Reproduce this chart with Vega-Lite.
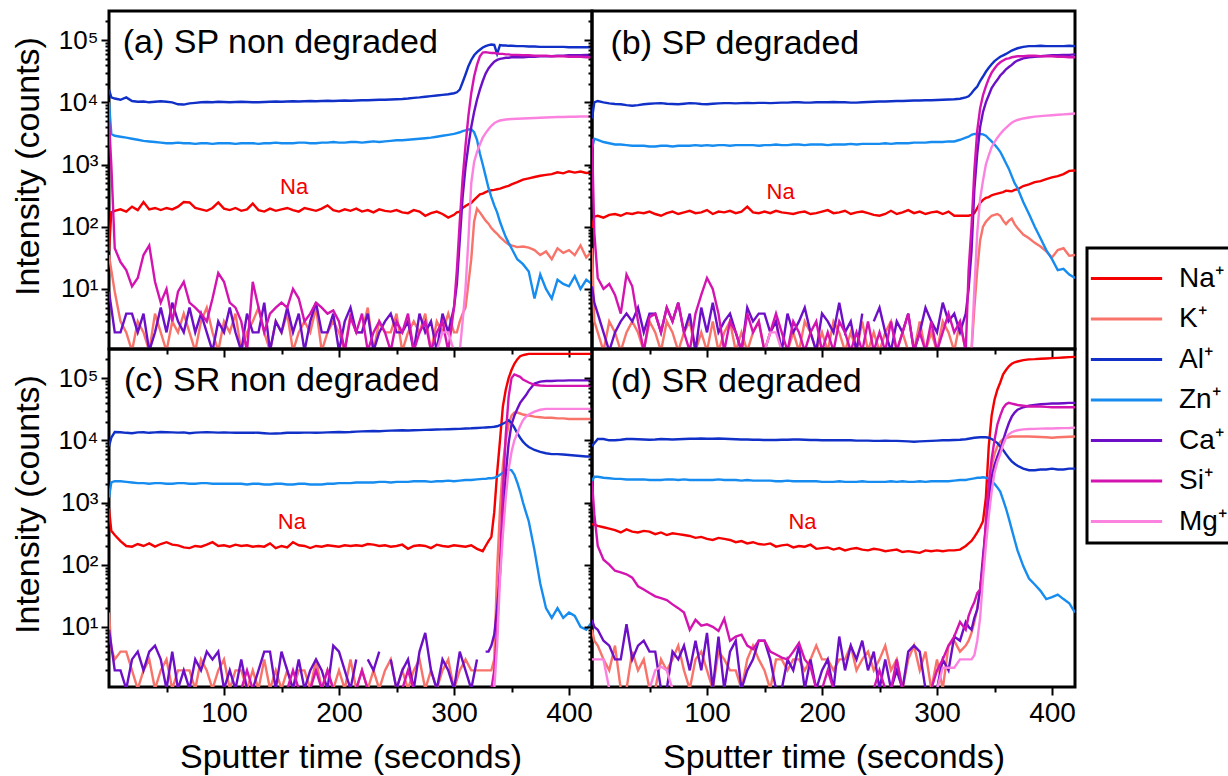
{
"$schema": "https://vega.github.io/schema/vega-lite/v6.json",
"background": "white",
"padding": {"left": 10, "top": 6, "right": 0, "bottom": 0},
"config": {
  "font": "Liberation Sans",
  "view": {"stroke": "black", "strokeWidth": 3},
  "axis": {"grid": false, "domain": false, "tickColor": "black", "tickWidth": 2, "labelColor": "black", "titleColor": "black", "labelFont": "Liberation Sans", "titleFont": "Liberation Sans", "titleFontWeight": "normal", "titleFontSize": 34, "labelOverlap": false, "labelFlush": false},
  "axisX": {"labelFontSize": 28, "labelPadding": 4, "titlePadding": 13},
  "axisY": {"labelFontSize": 26, "labelPadding": 3, "titlePadding": 12},
  "legend": {"strokeWidth": 3}
},
"datasets": {
"lab": [
{"p":"a","k":"h","t":12,"v":62000,"text":"(a) SP non degraded"},
{"p":"b","k":"h","t":16,"v":60000,"text":"(b) SP degraded"},
{"p":"c","k":"h","t":13,"v":62000,"text":"(c) SR non degraded"},
{"p":"d","k":"h","t":16,"v":60000,"text":"(d) SR degraded"},
{"p":"a","k":"n","t":161,"v":341,"text":"Na"},
{"p":"b","k":"n","t":164,"v":283,"text":"Na"},
{"p":"c","k":"n","t":159,"v":381,"text":"Na"},
{"p":"d","k":"n","t":183,"v":372,"text":"Na"}
],
"ts": [
{"p":"a","t":0,"Na":40,"K":35,"Al":16000,"Zn":10000,"Ca":9,"Si":5000,"Mg":1},
{"p":"a","t":2,"Na":170,"K":20,"Al":12000,"Zn":3100,"Ca":5,"Si":1000,"Mg":1},
{"p":"a","t":5,"Na":180,"K":9,"Al":11500,"Zn":2900,"Ca":2,"Si":45,"Mg":1},
{"p":"a","t":10,"Na":190,"K":3,"Al":11000,"Zn":2800,"Ca":2,"Si":27,"Mg":1},
{"p":"a","t":15,"Na":175,"K":2,"Al":12000,"Zn":2700,"Ca":4,"Si":20,"Mg":1},
{"p":"a","t":20,"Na":210,"K":1,"Al":10500,"Zn":2600,"Ca":4,"Si":11,"Mg":1},
{"p":"a","t":25,"Na":185,"K":3,"Al":10200,"Zn":2500,"Ca":2,"Si":15,"Mg":1},
{"p":"a","t":30,"Na":250,"K":2,"Al":10300,"Zn":2400,"Ca":4,"Si":35,"Mg":1},
{"p":"a","t":35,"Na":190,"K":1,"Al":10000,"Zn":2350,"Ca":1,"Si":50,"Mg":1},
{"p":"a","t":40,"Na":200,"K":4,"Al":10200,"Zn":2300,"Ca":2,"Si":13,"Mg":1},
{"p":"a","t":45,"Na":185,"K":2,"Al":10400,"Zn":2250,"Ca":5,"Si":6,"Mg":1},
{"p":"a","t":50,"Na":200,"K":1,"Al":10200,"Zn":2200,"Ca":2,"Si":10,"Mg":1},
{"p":"a","t":55,"Na":190,"K":3,"Al":10000,"Zn":2200,"Ca":6,"Si":3,"Mg":1},
{"p":"a","t":60,"Na":210,"K":2,"Al":9300,"Zn":2250,"Ca":3,"Si":9,"Mg":1},
{"p":"a","t":65,"Na":250,"K":4,"Al":9200,"Zn":2200,"Ca":2,"Si":13,"Mg":1},
{"p":"a","t":70,"Na":245,"K":2,"Al":9600,"Zn":2200,"Ca":5,"Si":6,"Mg":1},
{"p":"a","t":75,"Na":200,"K":1,"Al":9800,"Zn":2150,"Ca":2,"Si":5,"Mg":1},
{"p":"a","t":80,"Na":190,"K":3,"Al":10000,"Zn":2200,"Ca":4,"Si":4,"Mg":1},
{"p":"a","t":85,"Na":180,"K":5,"Al":10100,"Zn":2200,"Ca":2,"Si":3,"Mg":1},
{"p":"a","t":90,"Na":200,"K":2,"Al":10000,"Zn":2150,"Ca":1,"Si":7,"Mg":1},
{"p":"a","t":95,"Na":245,"K":1,"Al":10200,"Zn":2200,"Ca":3,"Si":18,"Mg":1},
{"p":"a","t":100,"Na":195,"K":3,"Al":10100,"Zn":2200,"Ca":2,"Si":13,"Mg":1},
{"p":"a","t":105,"Na":185,"K":2,"Al":10000,"Zn":2200,"Ca":5,"Si":6,"Mg":1},
{"p":"a","t":110,"Na":200,"K":4,"Al":10100,"Zn":2150,"Ca":2,"Si":5,"Mg":1},
{"p":"a","t":115,"Na":180,"K":1,"Al":10200,"Zn":2200,"Ca":1,"Si":3,"Mg":1},
{"p":"a","t":120,"Na":190,"K":2,"Al":10100,"Zn":2200,"Ca":4,"Si":1,"Mg":1},
{"p":"a","t":125,"Na":235,"K":3,"Al":10000,"Zn":2200,"Ca":2,"Si":13,"Mg":1},
{"p":"a","t":130,"Na":185,"K":5,"Al":10000,"Zn":2150,"Ca":2,"Si":5,"Mg":1},
{"p":"a","t":135,"Na":175,"K":2,"Al":10100,"Zn":2200,"Ca":6,"Si":2,"Mg":1},
{"p":"a","t":140,"Na":195,"K":1,"Al":10200,"Zn":2200,"Ca":1,"Si":4,"Mg":1},
{"p":"a","t":145,"Na":180,"K":3,"Al":10300,"Zn":2250,"Ca":3,"Si":5,"Mg":1},
{"p":"a","t":150,"Na":190,"K":2,"Al":10200,"Zn":2200,"Ca":2,"Si":6,"Mg":1},
{"p":"a","t":155,"Na":200,"K":4,"Al":10300,"Zn":2200,"Ca":5,"Si":5,"Mg":1},
{"p":"a","t":160,"Na":185,"K":1,"Al":10400,"Zn":2200,"Ca":2,"Si":10,"Mg":1},
{"p":"a","t":165,"Na":175,"K":2,"Al":10300,"Zn":2250,"Ca":4,"Si":7,"Mg":1},
{"p":"a","t":170,"Na":200,"K":3,"Al":10400,"Zn":2250,"Ca":1,"Si":3,"Mg":1},
{"p":"a","t":175,"Na":190,"K":2,"Al":10500,"Zn":2200,"Ca":3,"Si":4,"Mg":1},
{"p":"a","t":180,"Na":180,"K":5,"Al":10400,"Zn":2200,"Ca":6,"Si":6,"Mg":1},
{"p":"a","t":185,"Na":195,"K":1,"Al":10500,"Zn":2250,"Ca":2,"Si":5,"Mg":1},
{"p":"a","t":190,"Na":220,"K":2,"Al":10600,"Zn":2250,"Ca":2,"Si":4,"Mg":1},
{"p":"a","t":195,"Na":185,"K":3,"Al":10500,"Zn":2300,"Ca":4,"Si":4.5,"Mg":1},
{"p":"a","t":200,"Na":175,"K":2,"Al":10600,"Zn":2250,"Ca":1,"Si":3,"Mg":1},
{"p":"a","t":205,"Na":190,"K":1,"Al":10700,"Zn":2250,"Ca":3,"Si":1,"Mg":1},
{"p":"a","t":210,"Na":180,"K":4,"Al":10600,"Zn":2300,"Ca":5,"Si":3.5,"Mg":1},
{"p":"a","t":215,"Na":195,"K":2,"Al":10700,"Zn":2300,"Ca":2,"Si":2,"Mg":1},
{"p":"a","t":220,"Na":175,"K":2,"Al":10800,"Zn":2250,"Ca":2,"Si":4,"Mg":1},
{"p":"a","t":225,"Na":185,"K":5,"Al":10800,"Zn":2300,"Ca":4,"Si":1,"Mg":1},
{"p":"a","t":230,"Na":170,"K":1,"Al":10900,"Zn":2350,"Ca":1,"Si":2,"Mg":1},
{"p":"a","t":235,"Na":190,"K":3,"Al":11000,"Zn":2300,"Ca":2,"Si":3,"Mg":1},
{"p":"a","t":240,"Na":180,"K":2,"Al":11000,"Zn":2350,"Ca":3,"Si":2,"Mg":1},
{"p":"a","t":245,"Na":175,"K":2,"Al":11100,"Zn":2400,"Ca":4,"Si":1,"Mg":1},
{"p":"a","t":250,"Na":185,"K":4,"Al":11200,"Zn":2450,"Ca":2,"Si":3,"Mg":1},
{"p":"a","t":255,"Na":170,"K":1,"Al":11300,"Zn":2450,"Ca":2,"Si":2,"Mg":1},
{"p":"a","t":260,"Na":165,"K":2,"Al":11500,"Zn":2500,"Ca":3,"Si":4,"Mg":1},
{"p":"a","t":265,"Na":185,"K":3,"Al":11800,"Zn":2550,"Ca":1,"Si":1,"Mg":1},
{"p":"a","t":270,"Na":175,"K":2,"Al":12000,"Zn":2600,"Ca":4,"Si":2,"Mg":1},
{"p":"a","t":275,"Na":150,"K":4,"Al":12300,"Zn":2650,"Ca":2,"Si":3,"Mg":1},
{"p":"a","t":280,"Na":165,"K":1,"Al":12600,"Zn":2700,"Ca":3,"Si":1,"Mg":1},
{"p":"a","t":285,"Na":175,"K":3,"Al":12900,"Zn":2800,"Ca":1,"Si":2,"Mg":1},
{"p":"a","t":290,"Na":160,"K":2,"Al":13200,"Zn":2900,"Ca":4,"Si":3,"Mg":2},
{"p":"a","t":295,"Na":140,"K":4,"Al":13500,"Zn":3000,"Ca":2,"Si":1,"Mg":2},
{"p":"a","t":300,"Na":155,"K":2,"Al":14000,"Zn":3100,"Ca":5,"Si":5,"Mg":1},
{"p":"a","t":302.5,"Na":170,"K":2,"Al":14500,"Zn":3200,"Ca":12,"Si":20,"Mg":1},
{"p":"a","t":305,"Na":175,"K":3,"Al":16000,"Zn":3300,"Ca":60,"Si":120,"Mg":1},
{"p":"a","t":307.5,"Na":200,"K":4,"Al":21000,"Zn":3450,"Ca":300,"Si":600,"Mg":3},
{"p":"a","t":310,"Na":215,"K":5,"Al":28000,"Zn":3550,"Ca":900,"Si":2000,"Mg":10},
{"p":"a","t":312.5,"Na":230,"K":12,"Al":38000,"Zn":3650,"Ca":2000,"Si":6000,"Mg":60},
{"p":"a","t":315,"Na":240,"K":30,"Al":48000,"Zn":3700,"Ca":4000,"Si":14000,"Mg":500},
{"p":"a","t":317.5,"Na":270,"K":120,"Al":57000,"Zn":3300,"Ca":7000,"Si":26000,"Mg":1100},
{"p":"a","t":320,"Na":300,"K":195,"Al":64000,"Zn":2500,"Ca":11000,"Si":40000,"Mg":1600},
{"p":"a","t":322.5,"Na":330,"K":170,"Al":70000,"Zn":1500,"Ca":16000,"Si":55000,"Mg":2100},
{"p":"a","t":325,"Na":340,"K":146,"Al":76000,"Zn":1000,"Ca":22000,"Si":63000,"Mg":2700},
{"p":"a","t":327.5,"Na":360,"K":125,"Al":80000,"Zn":650,"Ca":29000,"Si":64000,"Mg":3200},
{"p":"a","t":330,"Na":375,"K":112,"Al":83000,"Zn":420,"Ca":35000,"Si":63000,"Mg":3700},
{"p":"a","t":332.5,"Na":385,"K":95,"Al":85000,"Zn":300,"Ca":40000,"Si":62000,"Mg":4200},
{"p":"a","t":335,"Na":390,"K":85,"Al":84000,"Zn":220,"Ca":45000,"Si":62000,"Mg":4600},
{"p":"a","t":337.5,"Na":400,"K":77,"Al":60000,"Zn":170,"Ca":48000,"Si":61000,"Mg":4900},
{"p":"a","t":340,"Na":410,"K":68,"Al":83000,"Zn":120,"Ca":50000,"Si":60000,"Mg":5100},
{"p":"a","t":342.5,"Na":425,"K":62,"Al":82000,"Zn":90,"Ca":51000,"Si":60000,"Mg":5200},
{"p":"a","t":345,"Na":440,"K":56,"Al":82000,"Zn":68,"Ca":52000,"Si":59000,"Mg":5300},
{"p":"a","t":347.5,"Na":455,"K":52,"Al":81000,"Zn":55,"Ca":52000,"Si":59000,"Mg":5350},
{"p":"a","t":350,"Na":480,"K":50,"Al":81000,"Zn":45,"Ca":53000,"Si":58000,"Mg":5400},
{"p":"a","t":355,"Na":520,"K":47,"Al":80000,"Zn":30,"Ca":53000,"Si":58000,"Mg":5450},
{"p":"a","t":360,"Na":570,"K":48,"Al":80000,"Zn":25,"Ca":53000,"Si":57000,"Mg":5500},
{"p":"a","t":365,"Na":600,"K":46,"Al":79000,"Zn":19,"Ca":54000,"Si":57000,"Mg":5550},
{"p":"a","t":370,"Na":630,"K":42,"Al":79000,"Zn":7,"Ca":54000,"Si":56000,"Mg":5600},
{"p":"a","t":375,"Na":660,"K":35,"Al":78000,"Zn":17,"Ca":55000,"Si":56000,"Mg":5650},
{"p":"a","t":380,"Na":680,"K":40,"Al":78000,"Zn":10,"Ca":55000,"Si":56000,"Mg":5700},
{"p":"a","t":385,"Na":700,"K":30,"Al":78000,"Zn":7,"Ca":55000,"Si":55000,"Mg":5750},
{"p":"a","t":390,"Na":750,"K":45,"Al":78000,"Zn":14,"Ca":56000,"Si":55000,"Mg":5800},
{"p":"a","t":395,"Na":720,"K":38,"Al":78000,"Zn":12,"Ca":56000,"Si":55000,"Mg":5800},
{"p":"a","t":400,"Na":780,"K":42,"Al":77000,"Zn":11,"Ca":57000,"Si":54000,"Mg":5850},
{"p":"a","t":405,"Na":740,"K":35,"Al":77000,"Zn":16,"Ca":57000,"Si":54000,"Mg":5850},
{"p":"a","t":410,"Na":770,"K":50,"Al":77000,"Zn":10,"Ca":57000,"Si":54000,"Mg":5900},
{"p":"a","t":415,"Na":730,"K":32,"Al":77000,"Zn":14,"Ca":58000,"Si":53000,"Mg":5900},
{"p":"a","t":420,"Na":750,"K":40,"Al":77000,"Zn":12,"Ca":58000,"Si":53000,"Mg":5900},

{"p":"b","t":0,"Na":95,"K":45,"Al":5500,"Zn":1800,"Ca":11,"Si":2600,"Mg":1},
{"p":"b","t":2,"Na":145,"K":3,"Al":10000,"Zn":2600,"Ca":6,"Si":80,"Mg":1},
{"p":"b","t":5,"Na":150,"K":2,"Al":10500,"Zn":2500,"Ca":4,"Si":15,"Mg":1},
{"p":"b","t":10,"Na":140,"K":1,"Al":10000,"Zn":2300,"Ca":2,"Si":10,"Mg":1},
{"p":"b","t":15,"Na":155,"K":3,"Al":9600,"Zn":2200,"Ca":1,"Si":12,"Mg":1},
{"p":"b","t":20,"Na":160,"K":2,"Al":9400,"Zn":2100,"Ca":2,"Si":8,"Mg":1},
{"p":"b","t":25,"Na":150,"K":1,"Al":9300,"Zn":2100,"Ca":3,"Si":4,"Mg":1},
{"p":"b","t":30,"Na":165,"K":2,"Al":9000,"Zn":2050,"Ca":4,"Si":17,"Mg":1},
{"p":"b","t":35,"Na":160,"K":3,"Al":8800,"Zn":2000,"Ca":3,"Si":11,"Mg":1},
{"p":"b","t":40,"Na":170,"K":2,"Al":9000,"Zn":2000,"Ca":5,"Si":3,"Mg":1},
{"p":"b","t":45,"Na":165,"K":1,"Al":9300,"Zn":2000,"Ca":2,"Si":1,"Mg":1},
{"p":"b","t":50,"Na":175,"K":3,"Al":9500,"Zn":1950,"Ca":4,"Si":3.5,"Mg":1},
{"p":"b","t":55,"Na":160,"K":2,"Al":9600,"Zn":1950,"Ca":4,"Si":4,"Mg":1},
{"p":"b","t":60,"Na":150,"K":1,"Al":9700,"Zn":2000,"Ca":2,"Si":2,"Mg":1},
{"p":"b","t":65,"Na":165,"K":3,"Al":9500,"Zn":2000,"Ca":5,"Si":5,"Mg":1},
{"p":"b","t":70,"Na":175,"K":2,"Al":9400,"Zn":1950,"Ca":3,"Si":3,"Mg":1},
{"p":"b","t":75,"Na":160,"K":1,"Al":9300,"Zn":2000,"Ca":6,"Si":6,"Mg":1},
{"p":"b","t":80,"Na":170,"K":2,"Al":9500,"Zn":2000,"Ca":2,"Si":2,"Mg":1},
{"p":"b","t":85,"Na":180,"K":3,"Al":9700,"Zn":2000,"Ca":4,"Si":1,"Mg":1},
{"p":"b","t":90,"Na":165,"K":1,"Al":9600,"Zn":2050,"Ca":1,"Si":4,"Mg":1},
{"p":"b","t":95,"Na":170,"K":2,"Al":9400,"Zn":2000,"Ca":5,"Si":8,"Mg":1},
{"p":"b","t":100,"Na":185,"K":1,"Al":9300,"Zn":2050,"Ca":2,"Si":15,"Mg":1},
{"p":"b","t":105,"Na":160,"K":3,"Al":9500,"Zn":2000,"Ca":6,"Si":10,"Mg":1},
{"p":"b","t":110,"Na":175,"K":1,"Al":9600,"Zn":2050,"Ca":2,"Si":4,"Mg":1},
{"p":"b","t":115,"Na":170,"K":2,"Al":9700,"Zn":2050,"Ca":3,"Si":1,"Mg":1},
{"p":"b","t":120,"Na":180,"K":3,"Al":9700,"Zn":2000,"Ca":4,"Si":3,"Mg":1},
{"p":"b","t":125,"Na":165,"K":1,"Al":9600,"Zn":2050,"Ca":2,"Si":2,"Mg":1},
{"p":"b","t":130,"Na":175,"K":2,"Al":9700,"Zn":2050,"Ca":1,"Si":1,"Mg":1},
{"p":"b","t":135,"Na":210,"K":1,"Al":9800,"Zn":2050,"Ca":5,"Si":4,"Mg":1},
{"p":"b","t":140,"Na":170,"K":2,"Al":9700,"Zn":2050,"Ca":3,"Si":2,"Mg":1},
{"p":"b","t":145,"Na":165,"K":3,"Al":9800,"Zn":2000,"Ca":4,"Si":3,"Mg":1},
{"p":"b","t":150,"Na":175,"K":1,"Al":9800,"Zn":2050,"Ca":4,"Si":1,"Mg":1},
{"p":"b","t":155,"Na":165,"K":2,"Al":9700,"Zn":2050,"Ca":2,"Si":2,"Mg":2},
{"p":"b","t":160,"Na":180,"K":3,"Al":9800,"Zn":2100,"Ca":3,"Si":4,"Mg":2},
{"p":"b","t":165,"Na":170,"K":1,"Al":9900,"Zn":2050,"Ca":1,"Si":2,"Mg":1},
{"p":"b","t":170,"Na":165,"K":1,"Al":9900,"Zn":2050,"Ca":4,"Si":1,"Mg":1},
{"p":"b","t":175,"Na":160,"K":2,"Al":10000,"Zn":2100,"Ca":2,"Si":3,"Mg":1},
{"p":"b","t":180,"Na":170,"K":1,"Al":10000,"Zn":2100,"Ca":3,"Si":2,"Mg":1},
{"p":"b","t":185,"Na":175,"K":3,"Al":9900,"Zn":2050,"Ca":5,"Si":1,"Mg":1},
{"p":"b","t":190,"Na":160,"K":2,"Al":9900,"Zn":2100,"Ca":2,"Si":2,"Mg":1},
{"p":"b","t":195,"Na":165,"K":1,"Al":10000,"Zn":2100,"Ca":1,"Si":3,"Mg":1},
{"p":"b","t":200,"Na":175,"K":2,"Al":10000,"Zn":2100,"Ca":4,"Si":1,"Mg":1},
{"p":"b","t":205,"Na":185,"K":1,"Al":10000,"Zn":2050,"Ca":3,"Si":2,"Mg":1},
{"p":"b","t":210,"Na":165,"K":3,"Al":10100,"Zn":2100,"Ca":2,"Si":1,"Mg":1},
{"p":"b","t":215,"Na":170,"K":2,"Al":10000,"Zn":2100,"Ca":6,"Si":3,"Mg":1},
{"p":"b","t":220,"Na":180,"K":1,"Al":10000,"Zn":2100,"Ca":2,"Si":2,"Mg":1},
{"p":"b","t":225,"Na":160,"K":2,"Al":9900,"Zn":2150,"Ca":3,"Si":1,"Mg":1},
{"p":"b","t":230,"Na":170,"K":1,"Al":9900,"Zn":2100,"Ca":1,"Si":2,"Mg":1},
{"p":"b","t":235,"Na":175,"K":3,"Al":10000,"Zn":2150,"Ca":4,"Si":1,"Mg":1},
{"p":"b","t":240,"Na":165,"K":1,"Al":10100,"Zn":2150,"Ca":null,"Si":3,"Mg":1},
{"p":"b","t":245,"Na":155,"K":2,"Al":10200,"Zn":2150,"Ca":3,"Si":1,"Mg":1},
{"p":"b","t":250,"Na":150,"K":1,"Al":10300,"Zn":2150,"Ca":5,"Si":2,"Mg":1},
{"p":"b","t":255,"Na":160,"K":2,"Al":10300,"Zn":2200,"Ca":2,"Si":1,"Mg":1},
{"p":"b","t":260,"Na":180,"K":3,"Al":10400,"Zn":2150,"Ca":1,"Si":3,"Mg":1},
{"p":"b","t":265,"Na":160,"K":1,"Al":10500,"Zn":2200,"Ca":3,"Si":1,"Mg":1},
{"p":"b","t":270,"Na":170,"K":2,"Al":10500,"Zn":2200,"Ca":2,"Si":2,"Mg":1},
{"p":"b","t":275,"Na":185,"K":1,"Al":10600,"Zn":2200,"Ca":4,"Si":4,"Mg":1},
{"p":"b","t":280,"Na":165,"K":1,"Al":10700,"Zn":2250,"Ca":1,"Si":1,"Mg":1},
{"p":"b","t":285,"Na":175,"K":3,"Al":10700,"Zn":2250,"Ca":2,"Si":2,"Mg":1},
{"p":"b","t":290,"Na":160,"K":1,"Al":10800,"Zn":2250,"Ca":5,"Si":1,"Mg":1},
{"p":"b","t":295,"Na":170,"K":2,"Al":10800,"Zn":2300,"Ca":3,"Si":3,"Mg":1},
{"p":"b","t":300,"Na":175,"K":1,"Al":10900,"Zn":2300,"Ca":2,"Si":1,"Mg":1},
{"p":"b","t":305,"Na":160,"K":3,"Al":11000,"Zn":2300,"Ca":6,"Si":2,"Mg":1},
{"p":"b","t":310,"Na":175,"K":2,"Al":11100,"Zn":2350,"Ca":3,"Si":4,"Mg":1},
{"p":"b","t":315,"Na":150,"K":1,"Al":11200,"Zn":2350,"Ca":4,"Si":2,"Mg":1},
{"p":"b","t":320,"Na":150,"K":3,"Al":11400,"Zn":2500,"Ca":2,"Si":3,"Mg":1},
{"p":"b","t":325,"Na":150,"K":1,"Al":12000,"Zn":2700,"Ca":4,"Si":1,"Mg":1},
{"p":"b","t":327.5,"Na":150,"K":1,"Al":12500,"Zn":2800,"Ca":10,"Si":20,"Mg":1},
{"p":"b","t":330,"Na":155,"K":1,"Al":14000,"Zn":3000,"Ca":40,"Si":100,"Mg":1},
{"p":"b","t":332.5,"Na":165,"K":5,"Al":16000,"Zn":3100,"Ca":400,"Si":800,"Mg":10},
{"p":"b","t":335,"Na":200,"K":20,"Al":18000,"Zn":3100,"Ca":1500,"Si":3500,"Mg":80},
{"p":"b","t":337.5,"Na":240,"K":60,"Al":22000,"Zn":3100,"Ca":4000,"Si":8000,"Mg":280},
{"p":"b","t":340,"Na":270,"K":100,"Al":26000,"Zn":3050,"Ca":7000,"Si":13000,"Mg":550},
{"p":"b","t":342.5,"Na":290,"K":120,"Al":31000,"Zn":2900,"Ca":10000,"Si":18000,"Mg":1000},
{"p":"b","t":345,"Na":300,"K":135,"Al":36000,"Zn":2600,"Ca":13000,"Si":24000,"Mg":1400},
{"p":"b","t":347.5,"Na":320,"K":150,"Al":41000,"Zn":2350,"Ca":17000,"Si":30000,"Mg":1900},
{"p":"b","t":350,"Na":330,"K":155,"Al":46000,"Zn":2100,"Ca":20000,"Si":35000,"Mg":2300},
{"p":"b","t":352.5,"Na":340,"K":160,"Al":50000,"Zn":1850,"Ca":23000,"Si":40000,"Mg":2700},
{"p":"b","t":355,"Na":350,"K":150,"Al":54000,"Zn":1600,"Ca":27000,"Si":44000,"Mg":3100},
{"p":"b","t":357.5,"Na":360,"K":125,"Al":57000,"Zn":1300,"Ca":30000,"Si":47000,"Mg":3500},
{"p":"b","t":360,"Na":380,"K":110,"Al":60000,"Zn":1050,"Ca":34000,"Si":50000,"Mg":3900},
{"p":"b","t":362.5,"Na":375,"K":125,"Al":64000,"Zn":850,"Ca":37000,"Si":51000,"Mg":4300},
{"p":"b","t":365,"Na":370,"K":135,"Al":68000,"Zn":650,"Ca":40000,"Si":53000,"Mg":4700},
{"p":"b","t":367.5,"Na":390,"K":110,"Al":71000,"Zn":500,"Ca":44000,"Si":54000,"Mg":5000},
{"p":"b","t":370,"Na":400,"K":95,"Al":74000,"Zn":420,"Ca":47000,"Si":55000,"Mg":5200},
{"p":"b","t":375,"Na":450,"K":75,"Al":78000,"Zn":250,"Ca":51000,"Si":55000,"Mg":5500},
{"p":"b","t":380,"Na":480,"K":65,"Al":80000,"Zn":160,"Ca":53000,"Si":56000,"Mg":5700},
{"p":"b","t":385,"Na":520,"K":55,"Al":80000,"Zn":100,"Ca":54000,"Si":56000,"Mg":5900},
{"p":"b","t":390,"Na":540,"K":48,"Al":81000,"Zn":65,"Ca":55000,"Si":55000,"Mg":6000},
{"p":"b","t":395,"Na":580,"K":40,"Al":80000,"Zn":42,"Ca":56000,"Si":55000,"Mg":6100},
{"p":"b","t":400,"Na":620,"K":32,"Al":80000,"Zn":30,"Ca":57000,"Si":55000,"Mg":6200},
{"p":"b","t":405,"Na":650,"K":42,"Al":80000,"Zn":20,"Ca":57000,"Si":54000,"Mg":6300},
{"p":"b","t":410,"Na":700,"K":45,"Al":80000,"Zn":21,"Ca":58000,"Si":54000,"Mg":6400},
{"p":"b","t":415,"Na":790,"K":34,"Al":81000,"Zn":17,"Ca":58000,"Si":53000,"Mg":6500},
{"p":"b","t":420,"Na":800,"K":35,"Al":80000,"Zn":15,"Ca":59000,"Si":53000,"Mg":6600},

{"p":"c","t":0,"Na":800,"K":17,"Al":8000,"Zn":1200,"Ca":9,"Si":1,"Mg":1},
{"p":"c","t":2,"Na":350,"K":4.5,"Al":11000,"Zn":2100,"Ca":5,"Si":1,"Mg":1},
{"p":"c","t":5,"Na":300,"K":3,"Al":13600,"Zn":2200,"Ca":2,"Si":1,"Mg":1},
{"p":"c","t":10,"Na":240,"K":4,"Al":13500,"Zn":2200,"Ca":2,"Si":1,"Mg":1},
{"p":"c","t":15,"Na":200,"K":4,"Al":13200,"Zn":2150,"Ca":1,"Si":1,"Mg":1},
{"p":"c","t":20,"Na":195,"K":2,"Al":13000,"Zn":2100,"Ca":3,"Si":1,"Mg":1},
{"p":"c","t":25,"Na":215,"K":1,"Al":13400,"Zn":2050,"Ca":4,"Si":1,"Mg":1},
{"p":"c","t":30,"Na":200,"K":2,"Al":13500,"Zn":2050,"Ca":2,"Si":1,"Mg":1},
{"p":"c","t":35,"Na":220,"K":3,"Al":13200,"Zn":2000,"Ca":4,"Si":1,"Mg":1},
{"p":"c","t":40,"Na":195,"K":1,"Al":13400,"Zn":2050,"Ca":5,"Si":1,"Mg":1},
{"p":"c","t":45,"Na":215,"K":2,"Al":13600,"Zn":2050,"Ca":3,"Si":1,"Mg":1},
{"p":"c","t":50,"Na":230,"K":3,"Al":13500,"Zn":2000,"Ca":1,"Si":1,"Mg":1},
{"p":"c","t":55,"Na":210,"K":1,"Al":13400,"Zn":2000,"Ca":4,"Si":1,"Mg":1},
{"p":"c","t":60,"Na":205,"K":2,"Al":13300,"Zn":2050,"Ca":1,"Si":1,"Mg":1},
{"p":"c","t":65,"Na":190,"K":2,"Al":13400,"Zn":2050,"Ca":2,"Si":1,"Mg":1},
{"p":"c","t":70,"Na":185,"K":2,"Al":13000,"Zn":2000,"Ca":1,"Si":1,"Mg":1},
{"p":"c","t":75,"Na":200,"K":1,"Al":13300,"Zn":2000,"Ca":3,"Si":1,"Mg":1},
{"p":"c","t":80,"Na":195,"K":3,"Al":13400,"Zn":2050,"Ca":2,"Si":1,"Mg":1},
{"p":"c","t":85,"Na":210,"K":2,"Al":13500,"Zn":2050,"Ca":4,"Si":1,"Mg":1},
{"p":"c","t":90,"Na":230,"K":1,"Al":13400,"Zn":2000,"Ca":3,"Si":1,"Mg":1},
{"p":"c","t":95,"Na":200,"K":2,"Al":13300,"Zn":2000,"Ca":4,"Si":1,"Mg":1},
{"p":"c","t":100,"Na":205,"K":3,"Al":13400,"Zn":2000,"Ca":1,"Si":1,"Mg":1},
{"p":"c","t":105,"Na":195,"K":1,"Al":13300,"Zn":2000,"Ca":2,"Si":1,"Mg":1},
{"p":"c","t":110,"Na":210,"K":2,"Al":13200,"Zn":2000,"Ca":1,"Si":1,"Mg":1},
{"p":"c","t":115,"Na":200,"K":2,"Al":13300,"Zn":2000,"Ca":3,"Si":1,"Mg":1},
{"p":"c","t":120,"Na":205,"K":1,"Al":13200,"Zn":1950,"Ca":1,"Si":2,"Mg":1},
{"p":"c","t":125,"Na":195,"K":2,"Al":13300,"Zn":2000,"Ca":1,"Si":1,"Mg":1},
{"p":"c","t":130,"Na":200,"K":1,"Al":13200,"Zn":2000,"Ca":2,"Si":1,"Mg":1},
{"p":"c","t":135,"Na":195,"K":3,"Al":13000,"Zn":1950,"Ca":4,"Si":1,"Mg":1},
{"p":"c","t":140,"Na":220,"K":1,"Al":12800,"Zn":1950,"Ca":4,"Si":1,"Mg":1},
{"p":"c","t":145,"Na":185,"K":2,"Al":12900,"Zn":2000,"Ca":1,"Si":1,"Mg":1},
{"p":"c","t":150,"Na":200,"K":1,"Al":13000,"Zn":2000,"Ca":4,"Si":1,"Mg":1},
{"p":"c","t":155,"Na":190,"K":2,"Al":13200,"Zn":1950,"Ca":2,"Si":1,"Mg":1},
{"p":"c","t":160,"Na":230,"K":1,"Al":13300,"Zn":1950,"Ca":1,"Si":2,"Mg":1},
{"p":"c","t":165,"Na":205,"K":2,"Al":13200,"Zn":2000,"Ca":3,"Si":1,"Mg":1},
{"p":"c","t":170,"Na":200,"K":2,"Al":13300,"Zn":2000,"Ca":1,"Si":1,"Mg":1},
{"p":"c","t":175,"Na":185,"K":1,"Al":13300,"Zn":1950,"Ca":2,"Si":1,"Mg":1},
{"p":"c","t":180,"Na":200,"K":3,"Al":13200,"Zn":1950,"Ca":3,"Si":2,"Mg":1},
{"p":"c","t":185,"Na":195,"K":1,"Al":13300,"Zn":1950,"Ca":2,"Si":1,"Mg":1},
{"p":"c","t":190,"Na":205,"K":2,"Al":13400,"Zn":2000,"Ca":1,"Si":2,"Mg":1},
{"p":"c","t":195,"Na":200,"K":1,"Al":13500,"Zn":2000,"Ca":5,"Si":1,"Mg":1},
{"p":"c","t":200,"Na":195,"K":2,"Al":13600,"Zn":2050,"Ca":4,"Si":1,"Mg":1},
{"p":"c","t":205,"Na":205,"K":1,"Al":13500,"Zn":2050,"Ca":2,"Si":1,"Mg":1},
{"p":"c","t":210,"Na":200,"K":3,"Al":13600,"Zn":2050,"Ca":1,"Si":1,"Mg":1},
{"p":"c","t":215,"Na":205,"K":1,"Al":13800,"Zn":2100,"Ca":3,"Si":1,"Mg":1},
{"p":"c","t":220,"Na":200,"K":2,"Al":13900,"Zn":2100,"Ca":null,"Si":2,"Mg":1},
{"p":"c","t":225,"Na":215,"K":1,"Al":14000,"Zn":2100,"Ca":3,"Si":1,"Mg":1},
{"p":"c","t":230,"Na":210,"K":2,"Al":14100,"Zn":2100,"Ca":2,"Si":1,"Mg":1},
{"p":"c","t":235,"Na":200,"K":1,"Al":14000,"Zn":2150,"Ca":4,"Si":1,"Mg":1},
{"p":"c","t":240,"Na":205,"K":2,"Al":14200,"Zn":2150,"Ca":null,"Si":1,"Mg":1},
{"p":"c","t":245,"Na":195,"K":3,"Al":14300,"Zn":2100,"Ca":3,"Si":1,"Mg":1},
{"p":"c","t":250,"Na":200,"K":1,"Al":14400,"Zn":2150,"Ca":1,"Si":1,"Mg":1},
{"p":"c","t":255,"Na":210,"K":2,"Al":14500,"Zn":2150,"Ca":2,"Si":1,"Mg":1},
{"p":"c","t":260,"Na":180,"K":1,"Al":14400,"Zn":2150,"Ca":3,"Si":2,"Mg":1},
{"p":"c","t":265,"Na":200,"K":2,"Al":14500,"Zn":2200,"Ca":1,"Si":1,"Mg":1},
{"p":"c","t":270,"Na":205,"K":3,"Al":14600,"Zn":2200,"Ca":4,"Si":1,"Mg":1},
{"p":"c","t":275,"Na":200,"K":1,"Al":14700,"Zn":2200,"Ca":8,"Si":1,"Mg":1},
{"p":"c","t":280,"Na":185,"K":2,"Al":14800,"Zn":2150,"Ca":2,"Si":1,"Mg":1},
{"p":"c","t":285,"Na":210,"K":1,"Al":14900,"Zn":2200,"Ca":1,"Si":1,"Mg":1},
{"p":"c","t":290,"Na":200,"K":2,"Al":15000,"Zn":2200,"Ca":3,"Si":1,"Mg":1},
{"p":"c","t":295,"Na":195,"K":3,"Al":15100,"Zn":2250,"Ca":2,"Si":1,"Mg":1},
{"p":"c","t":300,"Na":205,"K":1,"Al":15200,"Zn":2200,"Ca":1,"Si":1,"Mg":1},
{"p":"c","t":305,"Na":200,"K":2,"Al":15300,"Zn":2250,"Ca":4,"Si":1,"Mg":1},
{"p":"c","t":310,"Na":195,"K":3,"Al":15500,"Zn":2300,"Ca":2,"Si":1,"Mg":1},
{"p":"c","t":315,"Na":205,"K":2,"Al":15600,"Zn":2300,"Ca":1,"Si":1,"Mg":1},
{"p":"c","t":320,"Na":180,"K":2,"Al":15800,"Zn":2350,"Ca":3,"Si":1,"Mg":1},
{"p":"c","t":325,"Na":165,"K":2,"Al":16000,"Zn":2400,"Ca":null,"Si":1,"Mg":1},
{"p":"c","t":327.5,"Na":200,"K":2,"Al":16100,"Zn":2400,"Ca":4,"Si":1,"Mg":1},
{"p":"c","t":330,"Na":240,"K":2,"Al":16200,"Zn":2450,"Ca":4,"Si":1,"Mg":1},
{"p":"c","t":332.5,"Na":280,"K":2,"Al":16300,"Zn":2450,"Ca":5,"Si":1,"Mg":1},
{"p":"c","t":335,"Na":700,"K":3,"Al":16500,"Zn":2500,"Ca":7.5,"Si":2,"Mg":1},
{"p":"c","t":337.5,"Na":3000,"K":80,"Al":16800,"Zn":2600,"Ca":20,"Si":8,"Mg":5},
{"p":"c","t":340,"Na":10000,"K":800,"Al":17500,"Zn":2800,"Ca":70,"Si":100,"Mg":60},
{"p":"c","t":342.5,"Na":35000,"K":4000,"Al":18500,"Zn":3000,"Ca":500,"Si":1500,"Mg":300},
{"p":"c","t":345,"Na":65000,"K":10000,"Al":19500,"Zn":3200,"Ca":2800,"Si":12000,"Mg":1200},
{"p":"c","t":347.5,"Na":100000,"K":18000,"Al":21000,"Zn":3400,"Ca":9000,"Si":50000,"Mg":3400},
{"p":"c","t":350,"Na":135000,"K":25000,"Al":19000,"Zn":3300,"Ca":18000,"Si":100000,"Mg":6500},
{"p":"c","t":352.5,"Na":170000,"K":28000,"Al":16000,"Zn":2800,"Ca":25000,"Si":115000,"Mg":10000},
{"p":"c","t":355,"Na":200000,"K":28000,"Al":13000,"Zn":2100,"Ca":32000,"Si":110000,"Mg":13000},
{"p":"c","t":357.5,"Na":225000,"K":27000,"Al":11000,"Zn":1500,"Ca":40000,"Si":105000,"Mg":17000},
{"p":"c","t":360,"Na":235000,"K":26000,"Al":9500,"Zn":1000,"Ca":46000,"Si":95000,"Mg":21000},
{"p":"c","t":362.5,"Na":240000,"K":25500,"Al":8500,"Zn":700,"Ca":53000,"Si":90000,"Mg":24000},
{"p":"c","t":365,"Na":245000,"K":25000,"Al":7800,"Zn":500,"Ca":63000,"Si":85000,"Mg":26000},
{"p":"c","t":370,"Na":245000,"K":24000,"Al":7000,"Zn":170,"Ca":82000,"Si":78000,"Mg":29000},
{"p":"c","t":375,"Na":245000,"K":23500,"Al":6500,"Zn":50,"Ca":88000,"Si":76000,"Mg":31000},
{"p":"c","t":380,"Na":245000,"K":23000,"Al":6200,"Zn":20,"Ca":90000,"Si":75000,"Mg":32000},
{"p":"c","t":385,"Na":245000,"K":23000,"Al":6000,"Zn":14,"Ca":90000,"Si":75000,"Mg":32000},
{"p":"c","t":390,"Na":245000,"K":22500,"Al":6000,"Zn":20,"Ca":91000,"Si":75000,"Mg":32000},
{"p":"c","t":395,"Na":245000,"K":22500,"Al":5900,"Zn":14,"Ca":91000,"Si":75000,"Mg":32000},
{"p":"c","t":400,"Na":245000,"K":22000,"Al":5800,"Zn":17,"Ca":92000,"Si":75000,"Mg":32000},
{"p":"c","t":405,"Na":245000,"K":22000,"Al":5700,"Zn":15,"Ca":92000,"Si":75000,"Mg":32000},
{"p":"c","t":410,"Na":245000,"K":22000,"Al":5600,"Zn":10,"Ca":92000,"Si":75000,"Mg":32000},
{"p":"c","t":415,"Na":245000,"K":22000,"Al":5500,"Zn":9,"Ca":92000,"Si":75000,"Mg":32000},
{"p":"c","t":420,"Na":245000,"K":22000,"Al":5500,"Zn":12,"Ca":92000,"Si":75000,"Mg":32000},

{"p":"d","t":0,"Na":450,"K":9,"Al":8000,"Zn":2200,"Ca":13,"Si":2200,"Mg":3},
{"p":"d","t":2,"Na":440,"K":6,"Al":9000,"Zn":2600,"Ca":10,"Si":650,"Mg":3},
{"p":"d","t":5,"Na":420,"K":5,"Al":10500,"Zn":2600,"Ca":9,"Si":200,"Mg":3},
{"p":"d","t":10,"Na":400,"K":3,"Al":10500,"Zn":2500,"Ca":6,"Si":120,"Mg":3},
{"p":"d","t":15,"Na":380,"K":2,"Al":10000,"Zn":2450,"Ca":5,"Si":100,"Mg":1},
{"p":"d","t":20,"Na":360,"K":5,"Al":10000,"Zn":2400,"Ca":3,"Si":80,"Mg":1},
{"p":"d","t":25,"Na":330,"K":1,"Al":10200,"Zn":2400,"Ca":3,"Si":75,"Mg":1},
{"p":"d","t":30,"Na":370,"K":1,"Al":10500,"Zn":2350,"Ca":11,"Si":70,"Mg":1},
{"p":"d","t":35,"Na":340,"K":4,"Al":10500,"Zn":2350,"Ca":3,"Si":62,"Mg":1},
{"p":"d","t":40,"Na":330,"K":2,"Al":10400,"Zn":2350,"Ca":5,"Si":45,"Mg":1},
{"p":"d","t":45,"Na":350,"K":3,"Al":10300,"Zn":2350,"Ca":6,"Si":40,"Mg":1},
{"p":"d","t":50,"Na":340,"K":1,"Al":10200,"Zn":2300,"Ca":4,"Si":35,"Mg":1},
{"p":"d","t":55,"Na":310,"K":1,"Al":10300,"Zn":2300,"Ca":4,"Si":31,"Mg":2},
{"p":"d","t":60,"Na":330,"K":3,"Al":10500,"Zn":2300,"Ca":1,"Si":29,"Mg":2.3},
{"p":"d","t":65,"Na":300,"K":2,"Al":10400,"Zn":2350,"Ca":1,"Si":27,"Mg":2},
{"p":"d","t":70,"Na":320,"K":3,"Al":10300,"Zn":2350,"Ca":4,"Si":23,"Mg":1},
{"p":"d","t":75,"Na":310,"K":5,"Al":10400,"Zn":2300,"Ca":3,"Si":20,"Mg":1},
{"p":"d","t":80,"Na":300,"K":2,"Al":10500,"Zn":2350,"Ca":5,"Si":17,"Mg":1},
{"p":"d","t":85,"Na":290,"K":1,"Al":10600,"Zn":2300,"Ca":2,"Si":9,"Mg":1},
{"p":"d","t":90,"Na":270,"K":3,"Al":10600,"Zn":2300,"Ca":6,"Si":13,"Mg":1},
{"p":"d","t":95,"Na":280,"K":4,"Al":10700,"Zn":2300,"Ca":2,"Si":10.5,"Mg":1},
{"p":"d","t":100,"Na":260,"K":2,"Al":10600,"Zn":2300,"Ca":8,"Si":11,"Mg":1},
{"p":"d","t":105,"Na":250,"K":1,"Al":10600,"Zn":2300,"Ca":1,"Si":10,"Mg":1},
{"p":"d","t":110,"Na":270,"K":4,"Al":10700,"Zn":2350,"Ca":7,"Si":8.6,"Mg":1},
{"p":"d","t":115,"Na":260,"K":3,"Al":10600,"Zn":2300,"Ca":1,"Si":13.5,"Mg":1},
{"p":"d","t":120,"Na":250,"K":2,"Al":10500,"Zn":2300,"Ca":4,"Si":6,"Mg":1},
{"p":"d","t":125,"Na":230,"K":2,"Al":10400,"Zn":2300,"Ca":6,"Si":7,"Mg":1},
{"p":"d","t":130,"Na":240,"K":1,"Al":10300,"Zn":2250,"Ca":1,"Si":7.5,"Mg":1},
{"p":"d","t":135,"Na":220,"K":3,"Al":10300,"Zn":2300,"Ca":2,"Si":5,"Mg":1},
{"p":"d","t":140,"Na":230,"K":5,"Al":10200,"Zn":2250,"Ca":3,"Si":4.4,"Mg":1},
{"p":"d","t":145,"Na":215,"K":3,"Al":10200,"Zn":2250,"Ca":6,"Si":6,"Mg":1},
{"p":"d","t":150,"Na":210,"K":2,"Al":10100,"Zn":2250,"Ca":6,"Si":6,"Mg":1},
{"p":"d","t":155,"Na":220,"K":1,"Al":10100,"Zn":2250,"Ca":3,"Si":4,"Mg":1},
{"p":"d","t":160,"Na":195,"K":3,"Al":10100,"Zn":2200,"Ca":1,"Si":3.6,"Mg":1},
{"p":"d","t":165,"Na":205,"K":3,"Al":10200,"Zn":2200,"Ca":1,"Si":3.2,"Mg":1},
{"p":"d","t":170,"Na":210,"K":2,"Al":10200,"Zn":2250,"Ca":3,"Si":3,"Mg":1},
{"p":"d","t":175,"Na":190,"K":3,"Al":10300,"Zn":2200,"Ca":2,"Si":4,"Mg":1},
{"p":"d","t":180,"Na":200,"K":3,"Al":10300,"Zn":2200,"Ca":5,"Si":5.5,"Mg":1},
{"p":"d","t":185,"Na":195,"K":2,"Al":10200,"Zn":2200,"Ca":1,"Si":3,"Mg":1},
{"p":"d","t":190,"Na":210,"K":3,"Al":10100,"Zn":2200,"Ca":3,"Si":2.3,"Mg":1},
{"p":"d","t":195,"Na":180,"K":5,"Al":10100,"Zn":2200,"Ca":1,"Si":1,"Mg":1},
{"p":"d","t":200,"Na":185,"K":3,"Al":10000,"Zn":2150,"Ca":2,"Si":1,"Mg":1},
{"p":"d","t":205,"Na":190,"K":3,"Al":10000,"Zn":2150,"Ca":3,"Si":2,"Mg":1},
{"p":"d","t":210,"Na":175,"K":2,"Al":10000,"Zn":2150,"Ca":1,"Si":1,"Mg":1},
{"p":"d","t":215,"Na":185,"K":3,"Al":10000,"Zn":2200,"Ca":7,"Si":1,"Mg":1},
{"p":"d","t":220,"Na":170,"K":3,"Al":10000,"Zn":2150,"Ca":2,"Si":1,"Mg":1},
{"p":"d","t":225,"Na":180,"K":5,"Al":10000,"Zn":2150,"Ca":5,"Si":1,"Mg":1},
{"p":"d","t":230,"Na":185,"K":2,"Al":9900,"Zn":2150,"Ca":3,"Si":1,"Mg":1},
{"p":"d","t":235,"Na":175,"K":3,"Al":9900,"Zn":2200,"Ca":6,"Si":1,"Mg":1},
{"p":"d","t":240,"Na":170,"K":4,"Al":9900,"Zn":2150,"Ca":2,"Si":1,"Mg":1},
{"p":"d","t":245,"Na":180,"K":2,"Al":9800,"Zn":2150,"Ca":4,"Si":1,"Mg":1},
{"p":"d","t":250,"Na":175,"K":3,"Al":9800,"Zn":2150,"Ca":1,"Si":2,"Mg":1},
{"p":"d","t":255,"Na":165,"K":5,"Al":9900,"Zn":2150,"Ca":3,"Si":1,"Mg":1},
{"p":"d","t":260,"Na":170,"K":2,"Al":9800,"Zn":2200,"Ca":1,"Si":1,"Mg":1},
{"p":"d","t":265,"Na":175,"K":3,"Al":9800,"Zn":2150,"Ca":2,"Si":3,"Mg":1},
{"p":"d","t":270,"Na":160,"K":1,"Al":9700,"Zn":2200,"Ca":1,"Si":1,"Mg":1},
{"p":"d","t":275,"Na":165,"K":3,"Al":9600,"Zn":2150,"Ca":4,"Si":1,"Mg":1},
{"p":"d","t":280,"Na":160,"K":5,"Al":9500,"Zn":2150,"Ca":5,"Si":1,"Mg":1},
{"p":"d","t":285,"Na":155,"K":2,"Al":9600,"Zn":2200,"Ca":4,"Si":1,"Mg":1},
{"p":"d","t":290,"Na":170,"K":4,"Al":9700,"Zn":2150,"Ca":1,"Si":1,"Mg":1},
{"p":"d","t":295,"Na":165,"K":1,"Al":9800,"Zn":2200,"Ca":1,"Si":1,"Mg":1},
{"p":"d","t":300,"Na":170,"K":3,"Al":9900,"Zn":2200,"Ca":1,"Si":2,"Mg":1},
{"p":"d","t":305,"Na":165,"K":1,"Al":10000,"Zn":2200,"Ca":3,"Si":3,"Mg":2.2},
{"p":"d","t":310,"Na":170,"K":5,"Al":10000,"Zn":2200,"Ca":2,"Si":5,"Mg":2.2},
{"p":"d","t":315,"Na":170,"K":6,"Al":10100,"Zn":2250,"Ca":7,"Si":7,"Mg":2.2},
{"p":"d","t":320,"Na":175,"K":4,"Al":10200,"Zn":2300,"Ca":6,"Si":12,"Mg":3},
{"p":"d","t":325,"Na":200,"K":5,"Al":10400,"Zn":2300,"Ca":12,"Si":9,"Mg":3},
{"p":"d","t":327.5,"Na":220,"K":6,"Al":10600,"Zn":2350,"Ca":10,"Si":15,"Mg":3},
{"p":"d","t":330,"Na":240,"K":8,"Al":10800,"Zn":2400,"Ca":9,"Si":20,"Mg":3},
{"p":"d","t":332.5,"Na":280,"K":12,"Al":11000,"Zn":2450,"Ca":14,"Si":25,"Mg":3.5},
{"p":"d","t":335,"Na":330,"K":20,"Al":11100,"Zn":2500,"Ca":19,"Si":35,"Mg":6},
{"p":"d","t":337.5,"Na":400,"K":40,"Al":11200,"Zn":2500,"Ca":40,"Si":40,"Mg":14},
{"p":"d","t":340,"Na":500,"K":94,"Al":11200,"Zn":2550,"Ca":135,"Si":100,"Mg":60},
{"p":"d","t":342.5,"Na":1200,"K":400,"Al":11200,"Zn":2500,"Ca":400,"Si":500,"Mg":200},
{"p":"d","t":345,"Na":8000,"K":1500,"Al":11000,"Zn":2400,"Ca":1100,"Si":2000,"Mg":600},
{"p":"d","t":347.5,"Na":25000,"K":3800,"Al":10500,"Zn":2200,"Ca":2500,"Si":5000,"Mg":1500},
{"p":"d","t":350,"Na":45000,"K":6000,"Al":9800,"Zn":2000,"Ca":4000,"Si":10000,"Mg":3000},
{"p":"d","t":352.5,"Na":65000,"K":8000,"Al":9000,"Zn":1750,"Ca":5500,"Si":18000,"Mg":4500},
{"p":"d","t":355,"Na":85000,"K":9500,"Al":8000,"Zn":1500,"Ca":7300,"Si":25000,"Mg":6000},
{"p":"d","t":357.5,"Na":115000,"K":10500,"Al":7000,"Zn":1100,"Ca":10000,"Si":33000,"Mg":8500},
{"p":"d","t":360,"Na":135000,"K":11000,"Al":6000,"Zn":800,"Ca":14000,"Si":38000,"Mg":11000},
{"p":"d","t":362.5,"Na":155000,"K":11200,"Al":5200,"Zn":550,"Ca":19000,"Si":40000,"Mg":12500},
{"p":"d","t":365,"Na":170000,"K":11500,"Al":4600,"Zn":370,"Ca":24000,"Si":39000,"Mg":13500},
{"p":"d","t":367.5,"Na":180000,"K":11500,"Al":4200,"Zn":250,"Ca":28000,"Si":38000,"Mg":14000},
{"p":"d","t":370,"Na":185000,"K":11500,"Al":3900,"Zn":170,"Ca":31000,"Si":37000,"Mg":14500},
{"p":"d","t":375,"Na":195000,"K":11500,"Al":3500,"Zn":95,"Ca":34000,"Si":36000,"Mg":15000},
{"p":"d","t":380,"Na":200000,"K":11500,"Al":3300,"Zn":60,"Ca":36000,"Si":35000,"Mg":15200},
{"p":"d","t":385,"Na":202000,"K":11400,"Al":3300,"Zn":48,"Ca":37000,"Si":35000,"Mg":15300},
{"p":"d","t":390,"Na":205000,"K":11300,"Al":3400,"Zn":38,"Ca":38000,"Si":35000,"Mg":15400},
{"p":"d","t":395,"Na":207000,"K":11200,"Al":3400,"Zn":28,"Ca":38500,"Si":34500,"Mg":15500},
{"p":"d","t":400,"Na":210000,"K":11000,"Al":3500,"Zn":30,"Ca":39000,"Si":34000,"Mg":15500},
{"p":"d","t":405,"Na":212000,"K":11200,"Al":3400,"Zn":33,"Ca":39000,"Si":34000,"Mg":15600},
{"p":"d","t":410,"Na":215000,"K":11300,"Al":3400,"Zn":28,"Ca":39500,"Si":34000,"Mg":15700},
{"p":"d","t":415,"Na":218000,"K":11400,"Al":3500,"Zn":24,"Ca":40000,"Si":34000,"Mg":15800},
{"p":"d","t":420,"Na":220000,"K":11500,"Al":3500,"Zn":17,"Ca":40000,"Si":34000,"Mg":16000}
]
},
"columns": 2,
"spacing": 0,
"bounds": "flush",
"resolve": {"scale": {"color": "shared"}, "legend": {"color": "shared"}},
"concat": [
 {"width": 483, "height": 338, "layer": [
  {"data": {"name": "ts"}, "transform": [{"filter": "datum.p == 'a'"}, {"fold": ["Na","K","Al","Zn","Ca","Si","Mg"], "as": ["ion","v"]}],
   "mark": {"type": "line", "strokeWidth": 2.4, "clip": true, "invalid": "break-paths-filter-domains"},
   "encoding": {
    "x": {"field": "t", "type": "quantitative", "scale": {"domain": [0,420], "nice": false, "zero": false}, "axis": {"values": [50,100,150,200,250,300,350,400], "labels": false, "title": null, "tickSize": {"condition": {"test": "datum.value % 100 == 0", "value": 8}, "value": 5}}},
    "y": {"field": "v", "type": "quantitative", "scale": {"type": "log", "domain": [1.08, 294000], "nice": false}, "axis": {"values": [2,3,4,5,6,7,8,9,10,20,30,40,50,60,70,80,90,100,200,300,400,500,600,700,800,900,1000,2000,3000,4000,5000,6000,7000,8000,9000,10000,20000,30000,40000,50000,60000,70000,80000,90000,100000,200000], "labelExpr": "abs(log(datum.value)/LN10 - round(log(datum.value)/LN10)) < 0.000001 ? '10' + ['⁰','¹','²','³','⁴','⁵','⁶'][round(log(datum.value)/LN10)] : ''", "title": "Intensity (counts)", "titleY": 155, "tickSize": {"condition": {"test": "abs(log(datum.value)/LN10 - round(log(datum.value)/LN10)) < 0.000001", "value": 8}, "value": 4}}},
    "color": {"field": "ion", "type": "nominal", "scale": {"domain": ["Na","K","Al","Zn","Ca","Si","Mg"], "range": ["#f40000","#f8736a","#1030c8","#168cf0","#6c0fc6","#d414b0","#fc82e0"]}, "legend": {"orient": "none", "legendX": 978, "legendY": 237, "title": null, "symbolType": "M-1.62,0L1.62,0", "symbolSize": 1936, "symbolStrokeWidth": 3, "symbolOffset": 9, "labelFontSize": 28, "labelFont": "Liberation Sans", "labelColor": "black", "labelExpr": "datum.label + '⁺'", "strokeColor": "black", "padding": 7, "rowPadding": 2.5, "labelOffset": 29}}
   }},
  {"data": {"name": "lab"}, "transform": [{"filter": "datum.p == 'a' && datum.k == 'h'"}], "mark": {"type": "text", "align": "left", "baseline": "alphabetic", "fontSize": 34, "font": "Liberation Sans", "color": "black"}, "encoding": {"x": {"field": "t", "type": "quantitative"}, "y": {"field": "v", "type": "quantitative"}, "text": {"field": "text"}}},
  {"data": {"name": "lab"}, "transform": [{"filter": "datum.p == 'a' && datum.k == 'n'"}], "mark": {"type": "text", "align": "center", "baseline": "alphabetic", "fontSize": 22, "font": "Liberation Sans", "color": "#f40000"}, "encoding": {"x": {"field": "t", "type": "quantitative"}, "y": {"field": "v", "type": "quantitative"}, "text": {"field": "text"}}}
 ]},
 {"width": 483, "height": 338, "layer": [
  {"data": {"name": "ts"}, "transform": [{"filter": "datum.p == 'b'"}, {"fold": ["Na","K","Al","Zn","Ca","Si","Mg"], "as": ["ion","v"]}],
   "mark": {"type": "line", "strokeWidth": 2.4, "clip": true, "invalid": "break-paths-filter-domains"},
   "encoding": {
    "x": {"field": "t", "type": "quantitative", "scale": {"domain": [0,420], "nice": false, "zero": false}, "axis": {"values": [50,100,150,200,250,300,350,400], "labels": false, "title": null, "tickSize": {"condition": {"test": "datum.value % 100 == 0", "value": 8}, "value": 5}}},
    "y": {"field": "v", "type": "quantitative", "scale": {"type": "log", "domain": [1.08, 294000], "nice": false}, "axis": {"values": [2,3,4,5,6,7,8,9,10,20,30,40,50,60,70,80,90,100,200,300,400,500,600,700,800,900,1000,2000,3000,4000,5000,6000,7000,8000,9000,10000,20000,30000,40000,50000,60000,70000,80000,90000,100000,200000], "labels": false, "title": null, "tickSize": {"condition": {"test": "abs(log(datum.value)/LN10 - round(log(datum.value)/LN10)) < 0.000001", "value": 8}, "value": 4}}},
    "color": {"field": "ion", "type": "nominal", "scale": {"domain": ["Na","K","Al","Zn","Ca","Si","Mg"], "range": ["#f40000","#f8736a","#1030c8","#168cf0","#6c0fc6","#d414b0","#fc82e0"]}, "legend": {"orient": "none", "legendX": 978, "legendY": 237, "title": null, "symbolType": "M-1.62,0L1.62,0", "symbolSize": 1936, "symbolStrokeWidth": 3, "symbolOffset": 9, "labelFontSize": 28, "labelFont": "Liberation Sans", "labelColor": "black", "labelExpr": "datum.label + '⁺'", "strokeColor": "black", "padding": 7, "rowPadding": 2.5, "labelOffset": 29}}
   }},
  {"data": {"name": "lab"}, "transform": [{"filter": "datum.p == 'b' && datum.k == 'h'"}], "mark": {"type": "text", "align": "left", "baseline": "alphabetic", "fontSize": 34, "font": "Liberation Sans", "color": "black"}, "encoding": {"x": {"field": "t", "type": "quantitative"}, "y": {"field": "v", "type": "quantitative"}, "text": {"field": "text"}}},
  {"data": {"name": "lab"}, "transform": [{"filter": "datum.p == 'b' && datum.k == 'n'"}], "mark": {"type": "text", "align": "center", "baseline": "alphabetic", "fontSize": 22, "font": "Liberation Sans", "color": "#f40000"}, "encoding": {"x": {"field": "t", "type": "quantitative"}, "y": {"field": "v", "type": "quantitative"}, "text": {"field": "text"}}}
 ]},
 {"width": 483, "height": 338, "layer": [
  {"data": {"name": "ts"}, "transform": [{"filter": "datum.p == 'c'"}, {"fold": ["Na","K","Al","Zn","Ca","Si","Mg"], "as": ["ion","v"]}],
   "mark": {"type": "line", "strokeWidth": 2.4, "clip": true, "invalid": "break-paths-filter-domains"},
   "encoding": {
    "x": {"field": "t", "type": "quantitative", "scale": {"domain": [0,420], "nice": false, "zero": false}, "axis": {"values": [50,100,150,200,250,300,350,400], "labelExpr": "datum.value % 100 == 0 ? datum.label : ''", "title": "Sputter time (seconds)", "tickSize": {"condition": {"test": "datum.value % 100 == 0", "value": 8}, "value": 5}}},
    "y": {"field": "v", "type": "quantitative", "scale": {"type": "log", "domain": [1.08, 294000], "nice": false}, "axis": {"values": [2,3,4,5,6,7,8,9,10,20,30,40,50,60,70,80,90,100,200,300,400,500,600,700,800,900,1000,2000,3000,4000,5000,6000,7000,8000,9000,10000,20000,30000,40000,50000,60000,70000,80000,90000,100000,200000], "labelExpr": "abs(log(datum.value)/LN10 - round(log(datum.value)/LN10)) < 0.000001 ? '10' + ['⁰','¹','²','³','⁴','⁵','⁶'][round(log(datum.value)/LN10)] : ''", "title": "Intensity (counts)", "titleY": 155, "tickSize": {"condition": {"test": "abs(log(datum.value)/LN10 - round(log(datum.value)/LN10)) < 0.000001", "value": 8}, "value": 4}}},
    "color": {"field": "ion", "type": "nominal", "scale": {"domain": ["Na","K","Al","Zn","Ca","Si","Mg"], "range": ["#f40000","#f8736a","#1030c8","#168cf0","#6c0fc6","#d414b0","#fc82e0"]}, "legend": {"orient": "none", "legendX": 978, "legendY": 237, "title": null, "symbolType": "M-1.62,0L1.62,0", "symbolSize": 1936, "symbolStrokeWidth": 3, "symbolOffset": 9, "labelFontSize": 28, "labelFont": "Liberation Sans", "labelColor": "black", "labelExpr": "datum.label + '⁺'", "strokeColor": "black", "padding": 7, "rowPadding": 2.5, "labelOffset": 29}}
   }},
  {"data": {"name": "lab"}, "transform": [{"filter": "datum.p == 'c' && datum.k == 'h'"}], "mark": {"type": "text", "align": "left", "baseline": "alphabetic", "fontSize": 34, "font": "Liberation Sans", "color": "black"}, "encoding": {"x": {"field": "t", "type": "quantitative"}, "y": {"field": "v", "type": "quantitative"}, "text": {"field": "text"}}},
  {"data": {"name": "lab"}, "transform": [{"filter": "datum.p == 'c' && datum.k == 'n'"}], "mark": {"type": "text", "align": "center", "baseline": "alphabetic", "fontSize": 22, "font": "Liberation Sans", "color": "#f40000"}, "encoding": {"x": {"field": "t", "type": "quantitative"}, "y": {"field": "v", "type": "quantitative"}, "text": {"field": "text"}}}
 ]},
 {"width": 483, "height": 338, "layer": [
  {"data": {"name": "ts"}, "transform": [{"filter": "datum.p == 'd'"}, {"fold": ["Na","K","Al","Zn","Ca","Si","Mg"], "as": ["ion","v"]}],
   "mark": {"type": "line", "strokeWidth": 2.4, "clip": true, "invalid": "break-paths-filter-domains"},
   "encoding": {
    "x": {"field": "t", "type": "quantitative", "scale": {"domain": [0,420], "nice": false, "zero": false}, "axis": {"values": [50,100,150,200,250,300,350,400], "labelExpr": "datum.value % 100 == 0 ? datum.label : ''", "title": "Sputter time (seconds)", "tickSize": {"condition": {"test": "datum.value % 100 == 0", "value": 8}, "value": 5}}},
    "y": {"field": "v", "type": "quantitative", "scale": {"type": "log", "domain": [1.08, 294000], "nice": false}, "axis": {"values": [2,3,4,5,6,7,8,9,10,20,30,40,50,60,70,80,90,100,200,300,400,500,600,700,800,900,1000,2000,3000,4000,5000,6000,7000,8000,9000,10000,20000,30000,40000,50000,60000,70000,80000,90000,100000,200000], "labels": false, "title": null, "tickSize": {"condition": {"test": "abs(log(datum.value)/LN10 - round(log(datum.value)/LN10)) < 0.000001", "value": 8}, "value": 4}}},
    "color": {"field": "ion", "type": "nominal", "scale": {"domain": ["Na","K","Al","Zn","Ca","Si","Mg"], "range": ["#f40000","#f8736a","#1030c8","#168cf0","#6c0fc6","#d414b0","#fc82e0"]}, "legend": {"orient": "none", "legendX": 978, "legendY": 237, "title": null, "symbolType": "M-1.62,0L1.62,0", "symbolSize": 1936, "symbolStrokeWidth": 3, "symbolOffset": 9, "labelFontSize": 28, "labelFont": "Liberation Sans", "labelColor": "black", "labelExpr": "datum.label + '⁺'", "strokeColor": "black", "padding": 7, "rowPadding": 2.5, "labelOffset": 29}}
   }},
  {"data": {"name": "lab"}, "transform": [{"filter": "datum.p == 'd' && datum.k == 'h'"}], "mark": {"type": "text", "align": "left", "baseline": "alphabetic", "fontSize": 34, "font": "Liberation Sans", "color": "black"}, "encoding": {"x": {"field": "t", "type": "quantitative"}, "y": {"field": "v", "type": "quantitative"}, "text": {"field": "text"}}},
  {"data": {"name": "lab"}, "transform": [{"filter": "datum.p == 'd' && datum.k == 'n'"}], "mark": {"type": "text", "align": "center", "baseline": "alphabetic", "fontSize": 22, "font": "Liberation Sans", "color": "#f40000"}, "encoding": {"x": {"field": "t", "type": "quantitative"}, "y": {"field": "v", "type": "quantitative"}, "text": {"field": "text"}}}
 ]}
]
}
